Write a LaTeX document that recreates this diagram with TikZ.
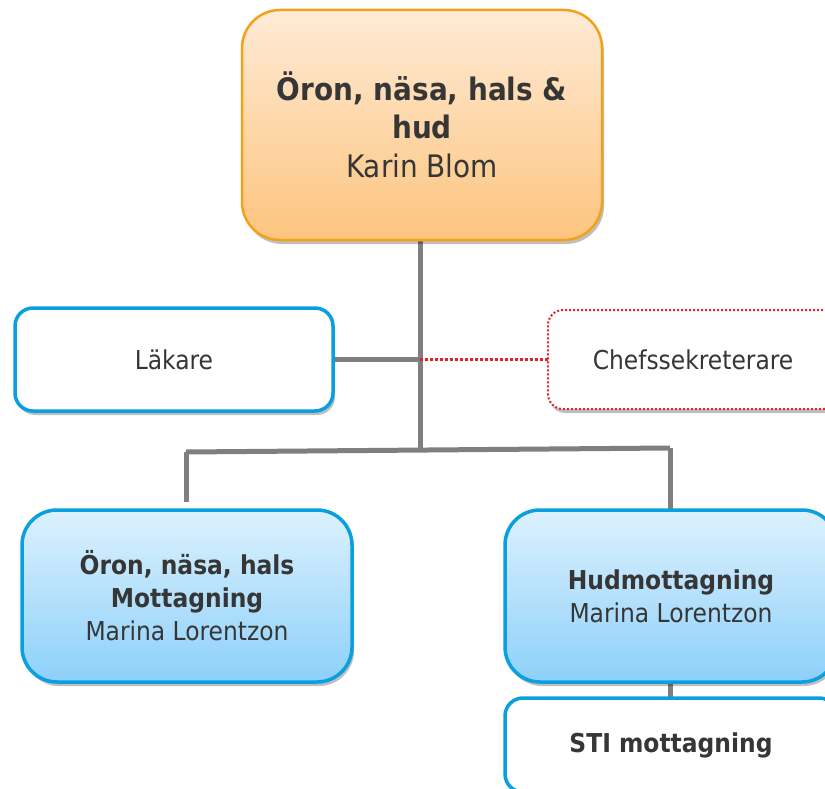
\documentclass[tikz,border=0pt]{standalone}
\usepackage{fontspec}
\setmainfont{DejaVu Sans Condensed}
\usetikzlibrary{shadows}
\definecolor{txt}{HTML}{363636}
\definecolor{orgborder}{HTML}{F4A11A}
\definecolor{orgtop}{HTML}{FEEBD6}
\definecolor{orgbot}{HTML}{FDC47E}
\definecolor{bluborder}{HTML}{0AA0E0}
\definecolor{blutop}{HTML}{DDF1FD}
\definecolor{blubot}{HTML}{8DD0FA}
\definecolor{conn}{HTML}{7F7F7F}
\definecolor{reddot}{HTML}{E8202A}
\tikzset{
  boxshadow/.style={drop shadow={shadow xshift=2pt,shadow yshift=-4pt,opacity=0.25,fill=black}},
  headbox/.style={draw=orgborder,line width=2.5pt,rounded corners=38pt,top color=orgtop,bottom color=orgbot,
     text=txt,align=center,inner sep=0pt,boxshadow,font=\fontsize{31}{38}\selectfont},
  plainbox/.style={draw=bluborder,line width=3.5pt,rounded corners=18pt,fill=white,
     text=txt,align=center,inner sep=0pt,boxshadow,font=\fontsize{26}{33}\selectfont},
  staffbox/.style={draw=reddot,line width=2pt,dotted,rounded corners=15pt,fill=white,
     text=txt,align=center,inner sep=0pt,boxshadow,font=\fontsize{26}{33}\selectfont},
  unitbox/.style={draw=bluborder,line width=3.5pt,rounded corners=35pt,top color=blutop,bottom color=blubot,
     text=txt,align=center,inner sep=0pt,boxshadow,font=\fontsize{26}{33}\selectfont},
  conline/.style={draw=conn,line width=5pt},
  dotline/.style={draw=reddot,line width=3pt,dotted}
}
\begin{document}
\begin{tikzpicture}[x=1pt,y=-1pt]
\clip (0,0) rectangle (825,789);
\fill[white] (0,0) rectangle (825,789);
% connectors first
\coordinate (trunkbot) at (420,450);
\coordinate (mid) at (420,359);
\coordinate (barl) at (186,452);
\coordinate (barr) at (670,448);
\coordinate (leftdrop) at (186,502);
\draw[conline] (420,240) -- (trunkbot);
\draw[conline] (barl) -- (barr);
\draw[conline] (barl) -- (leftdrop);
\draw[conline] (barr) -- (670,512);
\draw[conline] (670,680) -- (670,700);
\draw[conline] (333,359) -- (mid);
\draw[dotline] (mid) -- (548,359);
% boxes
\node[headbox,minimum width=360pt,minimum height=230pt] (head) at (422,125)
  {\textbf{Öron, näsa, hals \&}\\\textbf{hud}\\[1pt]Karin Blom};
\node[plainbox,minimum width=318pt,minimum height=103pt] (lak) at (174,359.5) {Läkare};
\node[staffbox,minimum width=290pt,minimum height=99pt] (chef) at (693,359.5) {Chefssekreterare};
\node[unitbox,minimum width=330pt,minimum height=172pt] (enh) at (187,596)
  {\textbf{Öron, näsa, hals}\\\textbf{Mottagning}\\Marina Lorentzon};
\node[unitbox,minimum width=332pt,minimum height=172pt] (hud) at (671,596)
  {\textbf{Hudmottagning}\\Marina Lorentzon};
\node[plainbox,minimum width=332pt,minimum height=94pt] (sti) at (671,745) {\textbf{STI mottagning}};
\end{tikzpicture}
\end{document}
